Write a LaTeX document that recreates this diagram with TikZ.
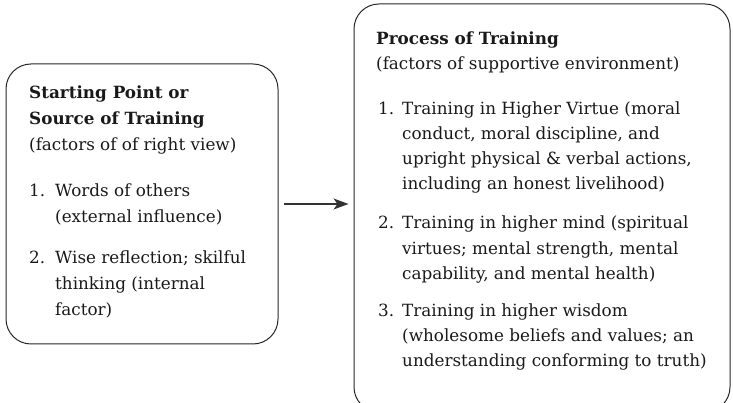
\documentclass[tikz,border=0pt]{standalone}
\usepackage{fontspec}
\setmainfont{DejaVu Serif}
\usetikzlibrary{arrows.meta}
\newcommand\dline[4]{\node[txt] (#1) at (#2,{403-#3}) {#4};}
\begin{document}
\begin{tikzpicture}[x=1pt,y=1pt,
  txt/.style={anchor=base west,inner sep=0pt,font=\fontsize{16.8}{20}\selectfont,text=black!90},
  box/.style={draw=black!85,line width=1pt,rounded corners=25pt,inner sep=0pt},
  conn/.style={line width=1.1pt,draw=black!80,-{Stealth[length=15pt,width=11pt,inset=4pt]}}]
\useasboundingbox (0,0) rectangle (733,403);
\node[box,minimum width=272pt,minimum height=280pt] (left) at (142,{403-204}) {};
\node[box,minimum width=376pt,minimum height=408pt] (right) at (542,{403-208}) {};
\draw[conn,shorten <=5pt,shorten >=5pt] (left.east) -- (left.east -| right.west);
\dline{l1}{29}{99}{\textbf{Starting Point or}}
\dline{l2}{29}{125}{\textbf{Source of Training}}
\dline{l3}{29}{151}{(factors of of right view)}
\dline{l4n}{29}{197}{1.}
\dline{l4}{55}{197}{Words of others}
\dline{l5}{55}{223}{(external influence)}
\dline{l6n}{29}{264}{2.}
\dline{l6}{55}{264}{Wise reflection; skilful}
\dline{l7}{55}{290}{thinking (internal}
\dline{l8}{55}{316}{factor)}
\dline{r1}{376}{45}{\textbf{Process of Training}}
\dline{r2}{376}{70}{(factors of supportive environment)}
\dline{r3n}{378}{115}{1.}
\dline{r3}{402}{115}{Training in Higher Virtue (moral}
\dline{r4}{402}{140}{conduct, moral discipline, and}
\dline{r5}{402}{165}{upright physical \& verbal actions,}
\dline{r6}{402}{190}{including an honest livelihood)}
\dline{r7n}{378}{229}{2.}
\dline{r7}{402}{229}{Training in higher mind (spiritual}
\dline{r8}{402}{255}{virtues; mental strength, mental}
\dline{r9}{402}{280}{capability, and mental health)}
\dline{r10n}{378}{317}{3.}
\dline{r10}{402}{317}{Training in higher wisdom}
\dline{r11}{402}{342}{(wholesome beliefs and values; an}
\dline{r12}{402}{367}{understanding conforming to truth)}
\end{tikzpicture}
\end{document}
